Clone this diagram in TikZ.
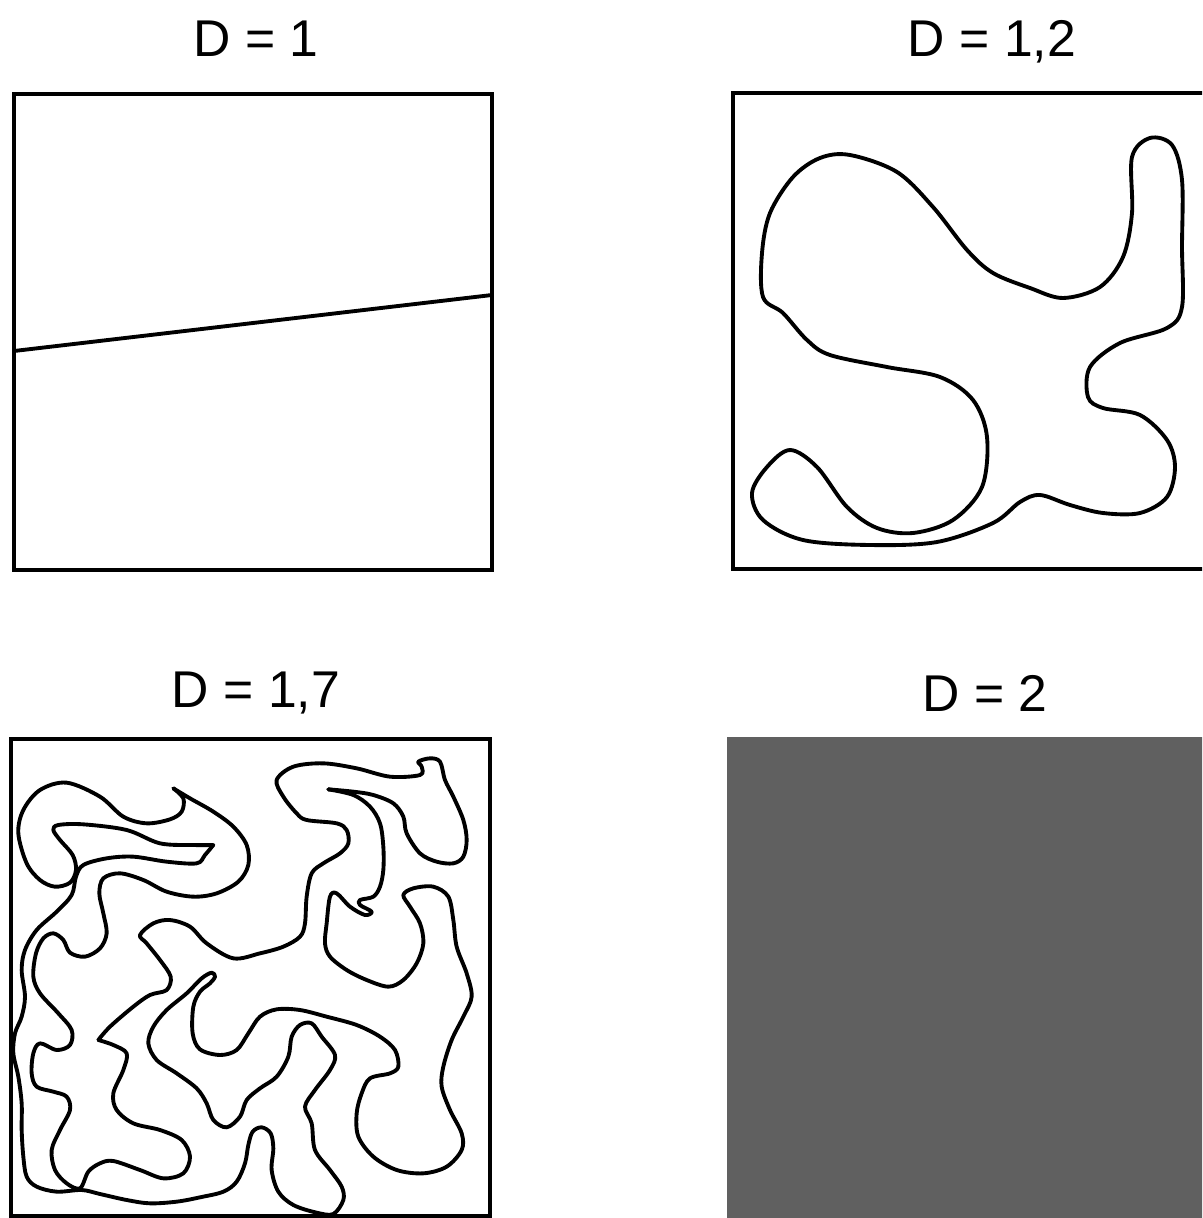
\documentclass[tikz,border=0pt]{standalone}
\usepackage{fontspec}
\setmainfont{Liberation Sans}
\usepackage{tikz}
\usepackage{xcolor}
\definecolor{fillgray}{RGB}{96,96,96}

\begin{document}
\begin{tikzpicture}[x=0.01cm, y=-0.01cm,
        frame/.style={black, line width=1.1pt},
        fractal/.style={black, line width=1.1pt, line join=round, line cap=round},
        title/.style={anchor=base, font=\fontsize{14.7}{17}\selectfont}]
        \useasboundingbox (0,0) rectangle (1202,1218);
        \clip (0,0) rectangle (1202,1218);
        % D = 1
        \node[title] (t1) at (256,57) {D = 1};
        \draw[frame] (14,94) rectangle (492,570);
        \draw[fractal] (14,351) -- (492,295);
        % D = 1,2
        \node[title] (t12) at (992,56) {D = 1,2};
        \draw[frame] (733,93) rectangle (1215,569);
        \draw[fractal] plot[smooth cycle, tension=0.55] coordinates {
            (850,155) (897,172) (933,207) (967,250) (993,273) (1030,288) (1063,298)
            (1100,287) (1123,257) (1132,213) (1132,157) (1150,138) (1172,145) (1182,180)
            (1182,247) (1182,307) (1167,328) (1120,343) (1090,367) (1088,397) (1103,408)
            (1140,415) (1167,440) (1175,467) (1167,497) (1140,513) (1103,513) (1070,505)
            (1040,495) (1020,502) (993,523) (937,542) (870,545) (803,540) (763,520)
            (752,493) (767,467) (790,450) (817,467) (847,507) (877,528) (913,533)
            (953,520) (982,487) (987,437) (973,400) (940,377) (887,367) (830,355)
            (807,340) (783,313) (763,297) (762,253) (770,213) (793,177) (820,158)};
        % D = 1,7
        \node[title] (t17) at (256,707) {D = 1,7};
        \draw[frame] (11,739) rectangle (490,1216);
        \begin{scope}[shift={(0,730)}, scale=1/3]
        \draw[fractal] plot[smooth, tension=0.55] coordinates {
            (520,175) (570,205) (640,245) (700,290) (740,345) (745,405) (715,455) (650,490)
            (580,500) (500,485) (430,450) (360,430) (310,445) (298,490) (310,550) (320,610)
            (300,655) (255,680) (210,668) (190,630) (160,610) (130,625) (108,670) (100,740)
            (120,790) (175,850) (215,900) (210,945) (170,960) (120,940) (100,970) (95,1030)
            (110,1070) (160,1085) (200,1100) (210,1140) (180,1200) (155,1260) (165,1320)
            (200,1360) (240,1375) (265,1325) (300,1300) (340,1293) (420,1320) (490,1345)
            (550,1330) (570,1280) (545,1230) (480,1200) (400,1180) (350,1140) (340,1090)
            (370,1020) (380,970) (340,945) (295,930)};
        \draw[fractal] plot[smooth, tension=0.55] coordinates {
            (295,930) (330,890) (400,830) (450,795) (500,780) (512,740) (480,690) (440,640)
            (420,615) (460,580) (510,570) (570,590) (620,640) (700,685) (780,670) (850,650)
            (900,620) (915,580) (920,500) (935,430) (970,400) (1020,370) (1045,340)
            (1040,300) (1010,280) (920,270) (890,250) (850,200) (830,150) (880,110)
            (970,100) (1070,115) (1170,140) (1260,135) (1265,110) (1255,95) (1290,85)
            (1320,95) (1335,150) (1360,200) (1390,270) (1400,330) (1390,380) (1360,400)
            (1310,395) (1260,370) (1220,310) (1210,260) (1180,220) (1120,195) (1060,185)
            (985,178)};
        \draw[fractal] plot[smooth, tension=0.55] coordinates {
            (985,178) (1060,195) (1110,230) (1140,280) (1150,350) (1150,420) (1140,470)
            (1120,500) (1080,510) (1080,525) (1115,545) (1095,555) (1050,530) (1010,490)
            (990,500) (980,580) (975,640) (990,680) (1040,720) (1100,750) (1165,770)
            (1210,750) (1250,700) (1270,640) (1260,580) (1230,530) (1210,495) (1240,475)
            (1300,470) (1345,500) (1360,570) (1370,650) (1400,730) (1415,800) (1390,860)
            (1355,930) (1330,1010) (1325,1070) (1350,1140) (1385,1210) (1385,1260)
            (1340,1310) (1270,1330) (1190,1320) (1120,1280) (1075,1220) (1070,1150)
            (1085,1090) (1110,1045) (1170,1030) (1195,1010) (1185,960) (1140,920)
            (1070,885) (980,860) (900,840) (830,838) (780,860) (745,910) (710,960)
            (660,975) (600,958) (578,910) (580,830) (600,785) (630,760) (645,740)
            (635,728) (605,745) (560,790) (500,840) (460,890) (445,940) (470,990)
            (530,1030) (590,1075) (620,1120) (640,1170) (680,1192) (720,1160) (740,1110)
            (780,1075) (830,1040) (865,980) (875,920) (900,885) (935,880) (965,920)
            (1005,975) (990,1020) (945,1080) (915,1130) (935,1180) (945,1260) (990,1320)
            (1025,1370) (1030,1410) (1000,1452) (950,1448) (880,1425) (835,1385)
            (815,1320) (820,1255) (812,1210) (785,1192) (758,1205) (745,1245) (735,1300)
            (710,1355) (670,1385) (600,1402) (530,1415) (450,1420) (380,1410) (300,1392)
            (245,1380) (170,1385) (110,1370) (80,1340) (70,1280) (65,1200) (65,1120)
            (55,1040) (40,970) (45,910) (65,860) (75,800) (65,720) (75,660) (110,600)
            (170,545) (215,495) (228,440) (250,405) (320,385) (400,380) (500,395)
            (590,400) (615,375) (640,345)};
        \draw[fractal] plot[smooth, tension=0.55] coordinates {
            (640,345) (580,345) (480,340) (380,300) (250,283) (175,285) (160,300)
            (180,330) (218,375) (228,420) (210,458) (165,470) (120,450) (80,400)
            (55,310) (70,240) (120,180) (200,158) (300,200) (370,260) (440,280)
            (510,268) (545,245) (550,205) (520,175)};
        \end{scope}
        % D = 2
        \node[title] (t2) at (985,711) {D = 2};
        \fill[fillgray] (727,737) rectangle (1215,1230);
\end{tikzpicture}
\end{document}
